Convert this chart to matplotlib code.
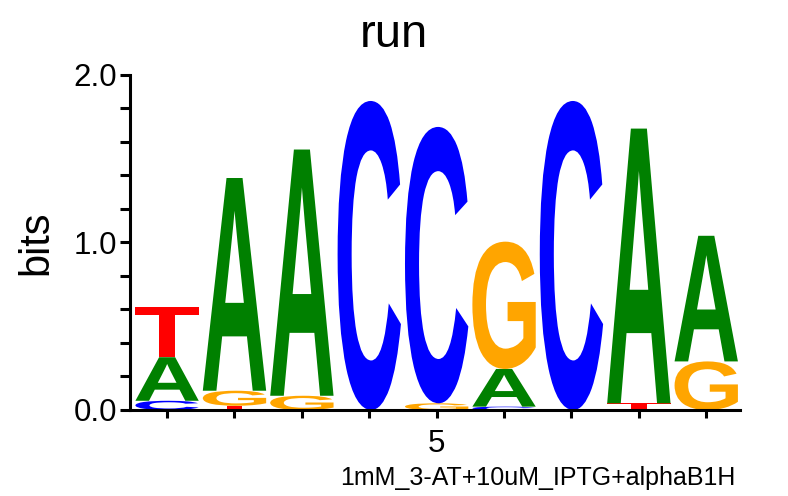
import matplotlib
matplotlib.use("Agg")
import matplotlib.pyplot as plt
from matplotlib.textpath import TextPath
from matplotlib.patches import PathPatch
from matplotlib.font_manager import FontProperties
from matplotlib.transforms import Affine2D
from matplotlib.ticker import MultipleLocator, FuncFormatter

# information content (bits) of each base at positions 1..9
positions = [1, 2, 3, 4, 5, 6, 7, 8, 9]
bits_A = [0.26, 1.27, 1.47, 0.0, 0.0, 0.225, 0.0, 1.64, 0.75]
bits_C = [0.055, 0.0, 0.0, 1.845, 1.65, 0.02, 1.845, 0.0, 0.0]
bits_G = [0.0, 0.09, 0.085, 0.0, 0.04, 0.76, 0.0, 0.0, 0.29]
bits_T = [0.30, 0.025, 0.0, 0.0, 0.0, 0.0, 0.0, 0.04, 0.0]

colors = {'A': '#008000', 'C': '#0000ff', 'G': '#ffa500', 'T': '#ff0000'}
letter_font = FontProperties(family='Liberation Sans', weight='bold')


def draw_letter(ax, letter, x, y0, height, width=0.94):
    tp = TextPath((0, 0), letter, size=1, prop=letter_font)
    ext = tp.get_extents()
    tr = (Affine2D()
          .translate(-ext.x0, -ext.y0)
          .scale(width / ext.width, height / ext.height)
          .translate(x - width / 2, y0))
    path = tr.transform_path(tp)
    ax.add_patch(PathPatch(path, facecolor=colors[letter], edgecolor='none'))


def main():
    plt.rcParams['font.family'] = 'Liberation Sans'
    fig = plt.figure(figsize=(7.88, 4.96), dpi=100)
    ax = fig.add_axes([0.165, 0.1734, 0.774, 0.6754])

    for i, pos in enumerate(positions):
        stack = [('A', bits_A[i]), ('C', bits_C[i]), ('G', bits_G[i]), ('T', bits_T[i])]
        stack = [s for s in stack if s[1] > 0]
        stack.sort(key=lambda s: s[1])
        y = 0.0
        for letter, h in stack:
            draw_letter(ax, letter, pos, y, h)
            y += h

    ax.set_xlim(0.45, 9.5)
    ax.set_ylim(0, 2.0)
    ax.spines['top'].set_visible(False)
    ax.spines['right'].set_visible(False)
    ax.spines['left'].set_linewidth(2.2)
    ax.spines['bottom'].set_linewidth(2.2)

    ax.yaxis.set_major_locator(MultipleLocator(0.2))
    ax.yaxis.set_major_formatter(FuncFormatter(
        lambda v, p: '%.1f' % v if abs(v - round(v)) < 1e-6 else ''))
    ax.set_xticks(positions)
    ax.set_xticklabels(['5' if p == 5 else '' for p in positions])
    ax.tick_params(axis='y', length=7.5, width=2.2, labelsize=22.5, pad=2)
    ax.tick_params(axis='x', length=6, width=2.2, labelsize=22.5, pad=8)

    ax.set_ylabel('bits', fontsize=30, labelpad=12)
    fig.text(0.5, 0.905, 'run', fontsize=34, ha='center')
    fig.text(0.682, 0.022, '1mM_3-AT+10uM_IPTG+alphaB1H', fontsize=18, ha='center')

    fig.savefig('out.png', dpi=100)


if __name__ == "__main__":
    main()
